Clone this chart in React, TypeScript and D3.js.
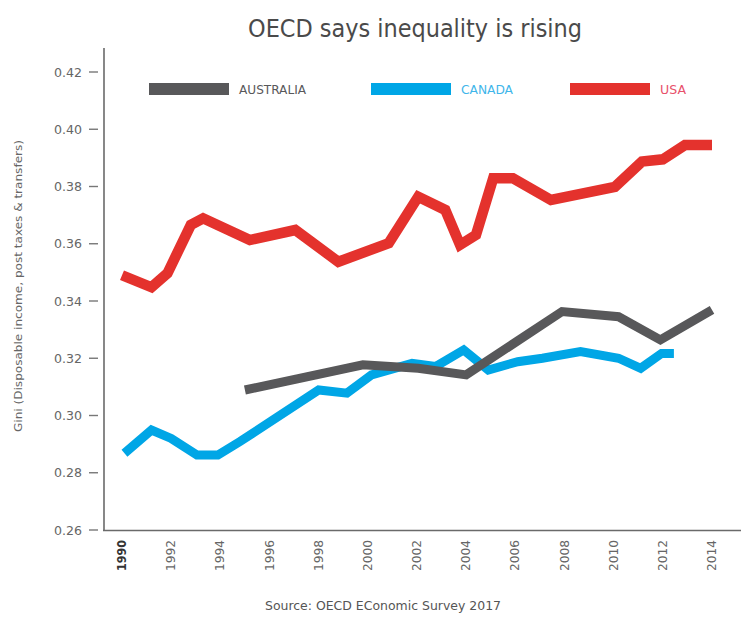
import * as d3 from "d3";

// Gini coefficient series (years are read off the chart, not all annual)
const usaYears = [1990, 1991.2, 1991.85, 1992.8, 1993.3, 1995.2, 1997.05, 1998.8, 2000.85, 2002.05, 2003.15, 2003.75, 2004.4, 2005.1, 2005.9, 2007.45, 2010.05, 2011.15, 2012.0, 2012.9, 2014.0];
const usaGini = [0.349, 0.3448, 0.3497, 0.3666, 0.3689, 0.3613, 0.3648, 0.3537, 0.3602, 0.3764, 0.3718, 0.3596, 0.3631, 0.3829, 0.3829, 0.3753, 0.3799, 0.3887, 0.3895, 0.3945, 0.3945];

const canadaYears = [1990.1, 1991.2, 1992.0, 1993.05, 1993.9, 1994.8, 1998.0, 1999.15, 2000.15, 2001.8, 2002.75, 2003.9, 2004.9, 2006.1, 2007.1, 2008.65, 2010.2, 2011.1, 2011.95, 2012.45];
const canadaGini = [0.2868, 0.2949, 0.292, 0.2862, 0.2862, 0.2909, 0.3089, 0.3078, 0.3142, 0.3182, 0.3171, 0.3229, 0.3159, 0.3188, 0.32, 0.3223, 0.32, 0.3165, 0.3217, 0.3217];

const australiaYears = [1995.0, 1999.8, 2002.05, 2004.0, 2007.9, 2010.2, 2011.9, 2014.0];
const australiaGini = [0.3089, 0.3177, 0.3165, 0.3142, 0.3363, 0.3345, 0.3264, 0.3369];

const yTicks = [0.26, 0.28, 0.3, 0.32, 0.34, 0.36, 0.38, 0.4, 0.42];
const xTicks = [1990, 1992, 1994, 1996, 1998, 2000, 2002, 2004, 2006, 2008, 2010, 2012, 2014];

const seriesNames = ["AUSTRALIA", "CANADA", "USA"];
const seriesColors = ["#58585a", "#00a6e6", "#e4322d"];
const legendTextColors = ["#58585a", "#3fb6ea", "#e8506a"];

const FONT = "'Liberation Sans Narrow', 'DejaVu Sans Condensed', Roboto, sans-serif";

export default function App() {
    const width = 741;
    const height = 621;

    const x = d3.scaleLinear().domain([1990, 2014]).range([122, 712]);
    const y = d3.scaleLinear().domain([0.26, 0.42]).range([530, 72]);

    const line = d3
        .line<[number, number]>()
        .x((d) => x(d[0]))
        .y((d) => y(d[1]));

    const zip = (a: number[], b: number[]) => a.map((v, i) => [v, b[i]] as [number, number]);

    const usaPath = line(zip(usaYears, usaGini)) || "";
    const canadaPath = line(zip(canadaYears, canadaGini)) || "";
    const australiaPath = line(zip(australiaYears, australiaGini)) || "";

    // legend positions
    const legendX = [149, 371, 570];
    const legendTextW = [67, 52, 26];

    return (
        <svg
            width={width}
            height={height}
            style={{ position: "absolute", left: 0, top: 0, background: "#fff" }}
            fontFamily={FONT}
        >
            {/* title */}
            <text
                x={415}
                y={37}
                textAnchor="middle"
                fontSize={24}
                fill="#4a4a4a"
                textLength={334}
                lengthAdjust="spacingAndGlyphs"
            >
                OECD says inequality is rising
            </text>

            {/* y axis title */}
            <text
                transform="translate(22,286) rotate(-90)"
                textAnchor="middle"
                fontSize={11}
                fill="#666"
                textLength={292}
                lengthAdjust="spacingAndGlyphs"
            >
                Gini (Disposable income, post taxes &amp; transfers)
            </text>

            {/* axes */}
            <line x1={104} x2={104} y1={48} y2={531} stroke="#6a6a6a" strokeWidth={1.6} />
            <line x1={103} x2={741} y1={530.5} y2={530.5} stroke="#6a6a6a" strokeWidth={1.6} />

            {yTicks.map((t) => (
                <g key={t}>
                    <line x1={89} x2={98} y1={y(t)} y2={y(t)} stroke="#777" strokeWidth={1.4} />
                    <text
                        x={82}
                        y={y(t) + 4.5}
                        textAnchor="end"
                        fontSize={13}
                        fill="#666"
                        textLength={28}
                        lengthAdjust="spacingAndGlyphs"
                    >
                        {d3.format(".2f")(t)}
                    </text>
                </g>
            ))}

            {xTicks.map((t) => (
                <text
                    key={t}
                    transform={`translate(${x(t) + 4},540) rotate(-90)`}
                    textAnchor="end"
                    fontSize={11.5}
                    fill={t === 1990 ? "#333" : "#666"}
                    fontWeight={t === 1990 ? "bold" : "normal"}
                    textLength={31}
                    lengthAdjust="spacingAndGlyphs"
                >
                    {t}
                </text>
            ))}

            {/* legend */}
            {seriesNames.map((n, i) => (
                <g key={n}>
                    <line
                        x1={legendX[i]}
                        x2={legendX[i] + 80}
                        y1={89}
                        y2={89}
                        stroke={seriesColors[i]}
                        strokeWidth={12}
                    />
                    <text
                        x={legendX[i] + 90}
                        y={94}
                        fontSize={13}
                        fill={legendTextColors[i]}
                        textLength={legendTextW[i]}
                        lengthAdjust="spacingAndGlyphs"
                    >
                        {n}
                    </text>
                </g>
            ))}

            {/* series */}
            <path d={usaPath} fill="none" stroke={seriesColors[2]} strokeWidth={10.5} strokeLinejoin="miter" />
            <path d={canadaPath} fill="none" stroke={seriesColors[1]} strokeWidth={9} strokeLinejoin="miter" />
            <path d={australiaPath} fill="none" stroke={seriesColors[0]} strokeWidth={9} strokeLinejoin="miter" />

            {/* source */}
            <text
                x={383}
                y={610}
                textAnchor="middle"
                fontSize={11.5}
                fill="#555"
                textLength={236}
                lengthAdjust="spacingAndGlyphs"
            >
                Source: OECD EConomic Survey 2017
            </text>
        </svg>
    );
}
